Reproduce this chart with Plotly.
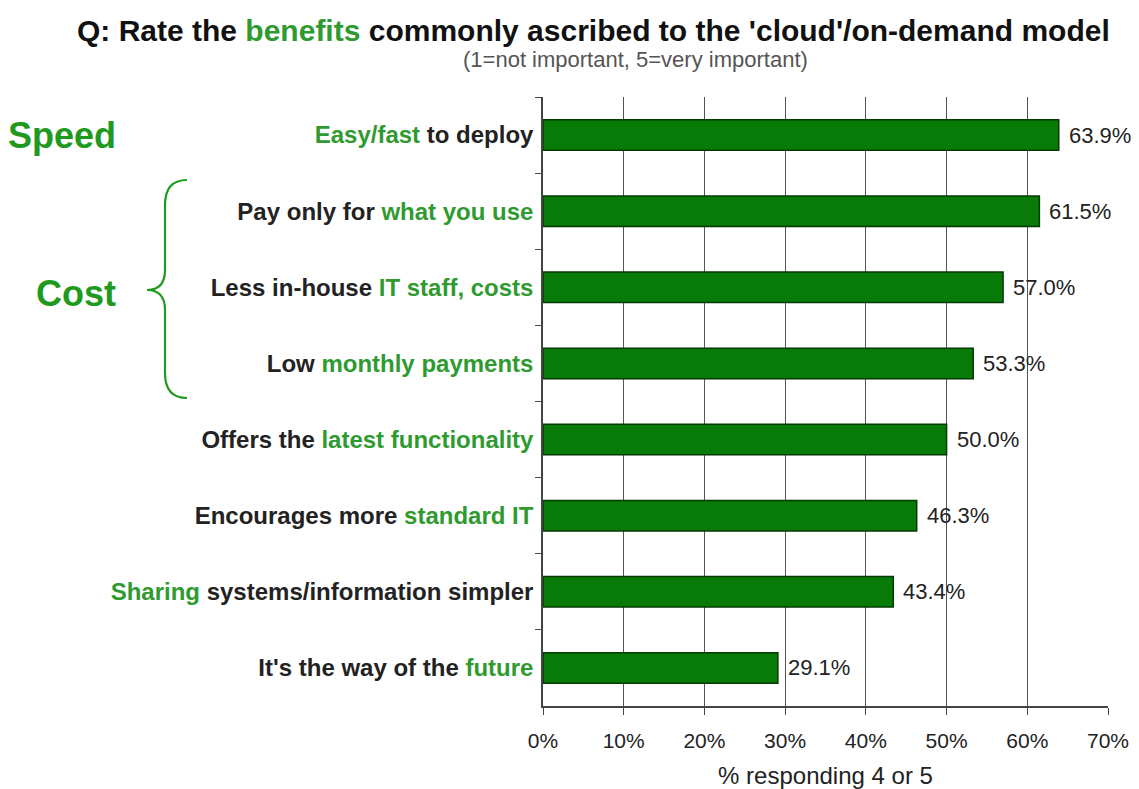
import plotly.graph_objects as go

G = "#2f9a2f"

categories = [
    f'<span style="color:{G}">Easy/fast</span> to deploy',
    f'Pay only for <span style="color:{G}">what you use</span>',
    f'Less in-house <span style="color:{G}">IT staff, costs</span>',
    f'Low <span style="color:{G}">monthly payments</span>',
    f'Offers the <span style="color:{G}">latest functionality</span>',
    f'Encourages more <span style="color:{G}">standard IT</span>',
    f'<span style="color:{G}">Sharing</span> systems/information simpler',
    f"It's the way of the <span style=\"color:{G}\">future</span>",
]
values = [63.9, 61.5, 57.0, 53.3, 50.0, 46.3, 43.4, 29.1]
x_ticks = [0, 10, 20, 30, 40, 50, 60, 70]
x_tick_labels = ["0%", "10%", "20%", "30%", "40%", "50%", "60%", "70%"]

W, H = 1139, 789
L, R, T, B = 543, 31, 97, 83
FONT = "Liberation Sans, Arial"

fig = go.Figure()
fig.add_trace(go.Bar(
    x=values, y=categories, orientation="h",
    marker=dict(color="#087a08", line=dict(color="#033a03", width=1.5)),
    hoverinfo="skip",
))

# value labels just right of each bar end
for v, c in zip(values, categories):
    fig.add_annotation(
        x=v, y=c, xref="x", yref="y", xanchor="left", yanchor="middle",
        xshift=8, text=f"{v:.1f}%", showarrow=False,
        font=dict(family=FONT, size=22, color="#222"),
    )

fig.update_layout(
    width=W, height=H,
    margin=dict(l=L, r=R, t=T, b=B, pad=0, autoexpand=False),
    paper_bgcolor="white", plot_bgcolor="white",
    bargap=0.6, showlegend=False,
    font=dict(family=FONT, color="#222"),
)
fig.update_xaxes(
    range=[0, 70], tickmode="array", tickvals=x_ticks, ticktext=x_tick_labels,
    showgrid=True, gridcolor="#555", gridwidth=1,
    showline=True, linecolor="#444", linewidth=1.5,
    ticks="outside", ticklen=7, tickcolor="#444",
    tickfont=dict(size=21, color="#222"), ticklabelstandoff=8,
    title=dict(text="% responding 4 or 5", font=dict(size=24, color="#222"), standoff=16),
    zeroline=False, fixedrange=True, automargin=False,
)
fig.update_yaxes(
    autorange="reversed", showgrid=False,
    showline=True, linecolor="#444", linewidth=1.5,
    ticks="outside", tickson="boundaries", ticklen=6, tickcolor="#444",
    tickfont=dict(size=24, color="#222", family=FONT, weight="bold"),
    ticklabelstandoff=3,
    fixedrange=True, automargin=False,
)


def px_x(px):
    return (px - L) / (W - L - R)


def px_y(py):
    return (H - B - py) / (H - T - B)


fig.add_annotation(
    x=px_x(75), y=px_y(30), xref="paper", yref="paper", xanchor="left", yanchor="middle",
    text=f"<b>Q: Rate the <span style=\"color:{G}\">benefits</span> commonly ascribed to the 'cloud'/on-demand model</b>",
    showarrow=False, font=dict(size=30, color="#111"),
)
fig.add_annotation(
    x=px_x(635), y=px_y(60), xref="paper", yref="paper", xanchor="center", yanchor="middle",
    text="(1=not important, 5=very important)",
    showarrow=False, font=dict(size=22, color="#555"),
)
fig.add_annotation(
    x=px_x(118), y=px_y(135), xref="paper", yref="paper", xanchor="right", yanchor="middle",
    text="<b>Speed</b>", showarrow=False, font=dict(size=36, color="#1f9a1f"),
)
fig.add_annotation(
    x=px_x(118), y=px_y(293), xref="paper", yref="paper", xanchor="right", yanchor="middle",
    text="<b>Cost</b>", showarrow=False, font=dict(size=36, color="#1f9a1f"),
)

# Curly brace
bx0, bx1, tip = 187, 165, 147
yt, ym, yb = 180, 290, 398
path = (
    f"M {px_x(bx0)},{px_y(yt)} "
    f"Q {px_x(bx1)},{px_y(yt)} {px_x(bx1)},{px_y(yt+25)} "
    f"L {px_x(bx1)},{px_y(ym-20)} "
    f"Q {px_x(bx1)},{px_y(ym)} {px_x(tip)},{px_y(ym)} "
    f"Q {px_x(bx1)},{px_y(ym)} {px_x(bx1)},{px_y(ym+20)} "
    f"L {px_x(bx1)},{px_y(yb-25)} "
    f"Q {px_x(bx1)},{px_y(yb)} {px_x(bx0)},{px_y(yb)}"
)
fig.add_shape(type="path", path=path, xref="paper", yref="paper",
              line=dict(color="#1f9a1f", width=2.2))

fig.write_html("out.html")
